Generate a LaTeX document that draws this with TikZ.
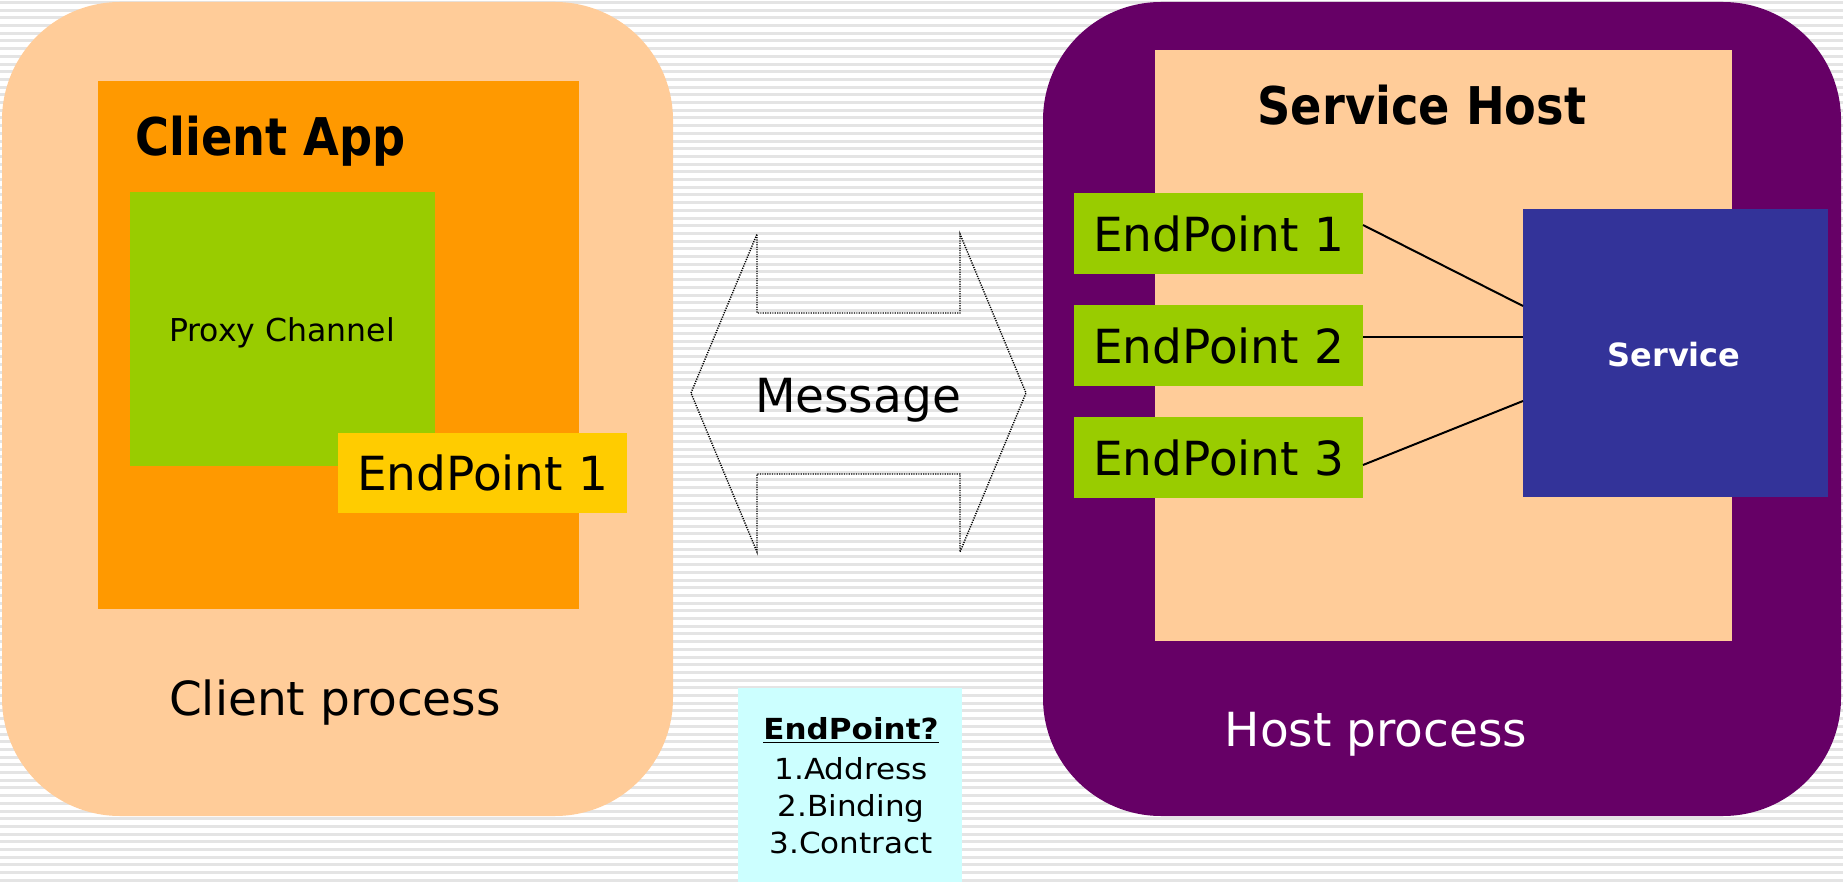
\documentclass[tikz,border=0pt]{standalone}
\usepackage{fontspec}
\setmainfont{DejaVu Sans}
\newfontfamily\headfont[FakeStretch=0.89]{DejaVu Sans}
\newfontfamily\infofont[FakeStretch=1.07]{DejaVu Sans}
\usetikzlibrary{fit}

\definecolor{peach}{HTML}{FFCC99}
\definecolor{plum}{HTML}{660066}
\definecolor{appOrange}{HTML}{FF9900}
\definecolor{leaf}{HTML}{99CC00}
\definecolor{gold}{HTML}{FFCC00}
\definecolor{indigo}{HTML}{333399}
\definecolor{paleCyan}{HTML}{CCFFFF}
\definecolor{stripeGray}{HTML}{E4E4E4}

\tikzset{
  area/.style={inner sep=0pt, outer sep=0pt, draw=none},
  process/.style={area, rounded corners=59pt},
  epbox/.style={inner sep=0pt, outer sep=0pt, minimum width=144.5pt, minimum height=40.5pt,
                font=\fontsize{23.5pt}{28pt}\selectfont},
  heading/.style={anchor=base, inner sep=0pt, font=\headfont\bfseries\fontsize{26pt}{30pt}\selectfont},
  bigtext/.style={anchor=base, inner sep=0pt, font=\fontsize{23.5pt}{28pt}\selectfont},
  infotext/.style={anchor=base, inner sep=0pt, font=\infofont\fontsize{14.5pt}{17pt}\selectfont},
  link/.style={line width=1pt, black},
  msgline/.style={line width=0.7pt, dash pattern=on 0.6pt off 0.6pt, black}
}

\begin{document}
\begin{tikzpicture}[x=0.5pt, y=-0.5pt]
\useasboundingbox (0,0) rectangle (1843,882);

% striped backdrop
\fill[white] (0,0) rectangle (1843,882);
\foreach \k in {0,...,114}
  \fill[stripeGray] (0,{\k*7.7+1}) rectangle (1843,{\k*7.7+4});

% client side
\node[process, fill=peach, fit={(2,2) (673,816)}] (clientproc) {};
\node[area, fill=appOrange, fit={(98,81) (579,609)}] (clientapp) {};
\node[heading, anchor=base west] (clientapptitle) at (135,156) {Client App};
\node[area, fill=leaf, fit={(130,192) (435,466)}] (proxy) {};
\node[anchor=base, inner sep=0pt, font=\fontsize{15.75pt}{19pt}\selectfont] (proxylabel) at (282,342) {Proxy Channel};
\node[epbox, fill=gold, minimum height=40pt] (cep) at (482.5,473) {EndPoint 1};
\node[bigtext] (clientproclabel) at (335,715) {Client process};

% host side
\node[process, fill=plum, fit={(1043,2) (1841,816)}] (hostproc) {};
\node[area, fill=peach, fit={(1155,50) (1732,641)}] (servicehost) {};
\node[heading] (servicehosttitle) at (1422,125) {Service Host};
\node[epbox, fill=leaf] (ep1) at (1218.5,233.5) {EndPoint 1};
\node[epbox, fill=leaf] (ep2) at (1218.5,345.5) {EndPoint 2};
\node[epbox, fill=leaf] (ep3) at (1218.5,457.5) {EndPoint 3};
\node[area, fill=indigo, fit={(1523,209) (1828,497)}] (svc) {};
\node[anchor=base, inner sep=0pt, text=white, font=\bfseries\fontsize{16pt}{19pt}\selectfont] (svclabel) at (1674,366) {Service};
\node[bigtext, text=white] (hostproclabel) at (1376,746) {Host process};

% endpoint wiring
\draw[link] ([yshift=4.25pt]ep1.east) -- ([yshift=23.5pt]svc.west);
\draw[link] ([yshift=4.25pt]ep2.east) -- ([yshift=8pt]svc.west);
\draw[link] ([yshift=-3.75pt]ep3.east) -- ([yshift=-24pt]svc.west);

% two-way message arrow
\draw[msgline] (691,393) -- (757,234) -- (757,313) -- (960,313) -- (960,234)
  -- (1026,393) -- (960,552) -- (960,474) -- (757,474) -- (757,552) -- cycle;
\node[bigtext] (msg) at (858,413) {Message};

% endpoint legend
\node[area, fill=paleCyan, fit={(738,688) (962,882)}] (legend) {};
\node[infotext] (legendtitle) at (851,739) {\bfseries\underline{EndPoint?}};
\node[infotext] (addr) at (851,779) {1.Address};
\node[infotext] (bind) at (851,816) {2.Binding};
\node[infotext] (contract) at (851,853) {3.Contract};
\end{tikzpicture}
\end{document}
